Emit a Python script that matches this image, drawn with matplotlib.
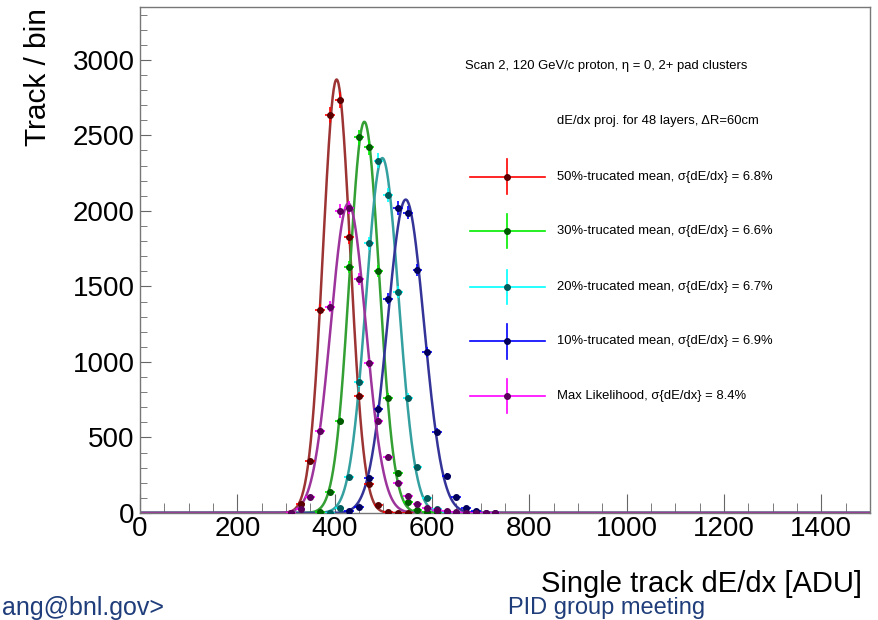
import numpy as np
import matplotlib
matplotlib.use('Agg')
import matplotlib.pyplot as plt
from matplotlib.ticker import MultipleLocator

plt.rcParams['font.family'] = ['Liberation Sans', 'DejaVu Sans']

# bin centres (20 ADU bins) for each method, counts
x_50 = [310, 330, 350, 370, 390, 410, 430, 450, 470, 490, 510, 530, 550]
y_50 = [3, 60, 346, 1345, 2636, 2735, 1826, 775, 195, 53, 9, 2, 0]

x_30 = [370, 390, 410, 430, 450, 470, 490, 510, 530, 550, 570, 590, 610]
y_30 = [5, 141, 611, 1627, 2488, 2422, 1600, 764, 267, 75, 18, 4, 0]

x_20 = [390, 410, 430, 450, 470, 490, 510, 530, 550, 570, 590, 610, 630, 650]
y_20 = [2, 35, 240, 865, 1786, 2333, 2106, 1462, 764, 303, 97, 24, 6, 0]

x_10 = [430, 450, 470, 490, 510, 530, 550, 570, 590, 610, 630, 650, 670, 690, 710, 730]
y_10 = [10, 42, 234, 687, 1420, 2018, 1989, 1607, 1066, 539, 247, 106, 31, 14, 3, 0]

x_ml = [310, 330, 350, 370, 390, 410, 430, 450, 470, 490, 510, 530, 550, 570,
        590, 610, 630, 650, 670, 690, 710, 730]
y_ml = [0, 28, 108, 544, 1366, 2000, 2022, 1550, 990, 611, 369, 201, 113, 62,
        32, 20, 10, 5, 2, 1, 0, 0]

# gaussian fit parameters (amplitude, mean, sigma)
fit_50 = (2870, 404, 28.0)
fit_30 = (2590, 461, 30.5)
fit_20 = (2350, 498, 33.5)
fit_10 = (2075, 546, 37.5)
fit_ml = (2050, 428, 36.0)

labels = ['50%-trucated mean, σ{dE/dx} = 6.8%',
          '30%-trucated mean, σ{dE/dx} = 6.6%',
          '20%-trucated mean, σ{dE/dx} = 6.7%',
          '10%-trucated mean, σ{dE/dx} = 6.9%',
          'Max Likelihood, σ{dE/dx} = 8.4%']

bar_colors = ['#ff0000', '#00ee00', '#00ffff', '#0000ff', '#ff00ff']
marker_colors = ['#5a0000', '#005a00', '#005a5a', '#00005a', '#5a005a']
fit_colors = ['#9c3434', '#34a034', '#34a0a0', '#343498', '#9c349c']

series = [(x_50, y_50, fit_50), (x_30, y_30, fit_30), (x_20, y_20, fit_20),
          (x_10, y_10, fit_10), (x_ml, y_ml, fit_ml)]

fig = plt.figure(figsize=(8.79, 6.2), dpi=100)
ax = fig.add_axes([140 / 879, 1 - 513 / 620, 730 / 879, 506 / 620])

xf = np.linspace(0, 1500, 1501)
for (xs, ys, fit), bc, mc, fc in zip(series, bar_colors, marker_colors, fit_colors):
    xs = np.array(xs)
    ys = np.array(ys)
    ax.errorbar(xs, ys, xerr=10, yerr=np.sqrt(ys), fmt='none', ecolor=bc,
                elinewidth=1.2, capsize=0, zorder=3)
    ax.plot(xs, ys, 'o', color=mc, markersize=4, zorder=4)
    a, mu, sig = fit
    ax.plot(xf, a * np.exp(-0.5 * ((xf - mu) / sig) ** 2), color=fc, lw=1.8, zorder=2)

ax.set_xlim(0, 1500)
ax.set_ylim(0, 3350)
ax.xaxis.set_major_locator(MultipleLocator(200))
ax.xaxis.set_minor_locator(MultipleLocator(50))
ax.yaxis.set_major_locator(MultipleLocator(500))
ax.yaxis.set_minor_locator(MultipleLocator(100))
ax.tick_params(axis='both', which='both', direction='in', colors='#666666',
               labelcolor='black', labelsize=20)
ax.tick_params(axis='x', which='major', length=14, pad=2)
ax.tick_params(axis='x', which='minor', length=7)
ax.tick_params(axis='y', which='major', length=8, pad=4)
ax.tick_params(axis='y', which='minor', length=5)
ax.tick_params(top=False, right=False)
for s in ax.spines.values():
    s.set_color('#777777')
    s.set_linewidth(1)

# legend drawn ROOT style
tr = ax.transAxes
fs = 9.4
ax.text(0.445, 0.884, 'Scan 2, 120 GeV/c proton, η = 0, 2+ pad clusters',
        transform=tr, fontsize=fs, va='center', ha='left')
ax.text(0.571, 0.775, 'dE/dx proj. for 48 layers, ΔR=60cm',
        transform=tr, fontsize=fs, va='center', ha='left')
rows = [0.665, 0.557, 0.447, 0.339, 0.231]
for yr, lab, bc, mc in zip(rows, labels, bar_colors, marker_colors):
    ax.plot([0.452, 0.555], [yr, yr], color=bc, lw=1.2, transform=tr)
    ax.plot([0.503, 0.503], [yr - 0.034, yr + 0.034], color=bc, lw=1.2, transform=tr)
    ax.plot([0.503], [yr], 'o', color=mc, markersize=4, transform=tr)
    ax.text(0.571, yr, lab, transform=tr, fontsize=fs, va='center', ha='left')

fig.text(862 / 879, 1 - 584 / 620, 'Single track dE/dx [ADU]', fontsize=21,
         ha='right', va='center')
fig.text(38 / 879, 1 - 8 / 620, 'Track / bin', fontsize=21.5, rotation=90,
         ha='center', va='top')

# slide footer
fig.text(2 / 879, 1 - 608 / 620, 'ang@bnl.gov>', fontsize=18, color='#1f3d7a',
         ha='left', va='center')
fig.text(508 / 879, 1 - 608 / 620, 'PID group meeting', fontsize=17,
         color='#1f3d7a', ha='left', va='center')

fig.savefig('out.png', dpi=100)
